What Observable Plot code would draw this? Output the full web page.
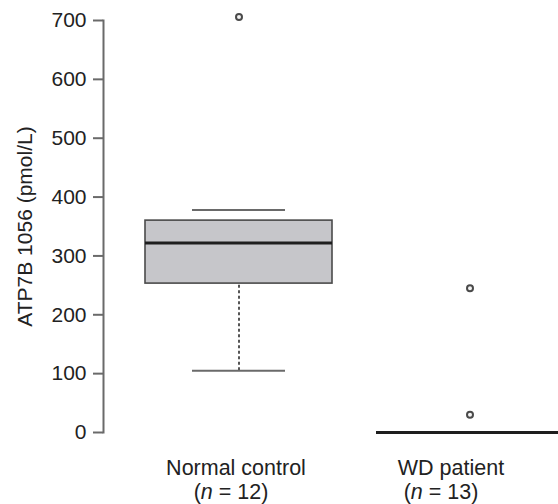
<!DOCTYPE html>
<html>
<head>
<meta charset="utf-8">
<script src="https://cdn.jsdelivr.net/npm/d3@7"></script>
<script src="https://cdn.jsdelivr.net/npm/@observablehq/plot@0.6"></script>
<style>
  html, body { margin: 0; padding: 0; background: #fff; }
  #chart { width: 558px; height: 504px; overflow: hidden; }
</style>
</head>
<body>
<div id="chart"></div>
<script>
// ---- data ----
const categories = ["Normal control", "WD patient"];
const nLabels = ["(n = 12)", "(n = 13)"];
const q1 = [253, 0];
const median = [322, 0];
const q3 = [360, 0];
const whiskerLow = [105, null];
const whiskerHigh = [378, null];
const outlierCategory = ["Normal control", "WD patient", "WD patient"];
const outlierValue = [706, 245, 30];
const yTicks = [0, 100, 200, 300, 400, 500, 600, 700];
const yLabel = "ATP7B 1056 (pmol/L)";

const boxes = categories.map((c, i) => ({
  cat: c, q1: q1[i], median: median[i], q3: q3[i], lo: whiskerLow[i], hi: whiskerHigh[i]
}));
const whiskers = boxes.filter(d => d.lo != null);
const outliers = outlierCategory.map((c, i) => ({cat: c, value: outlierValue[i]}));

// label offsets per category (line 1, line 2)
const labelDx = [[-3, -8], [-19, -29]];

const labelMarks = [];
categories.forEach((c, i) => {
  labelMarks.push(Plot.text([c], {x: d => d, text: d => d, frameAnchor: "bottom", lineAnchor: "bottom", dy: 42, dx: labelDx[i][0], fill: "#222", fontSize: 21.5}));
  labelMarks.push(Plot.text([nLabels[i]], {x: () => c, text: d => d, frameAnchor: "bottom", lineAnchor: "bottom", dy: 66, dx: labelDx[i][1], fill: "#222", fontSize: 21.5}));
});

const chart = Plot.plot({
  width: 558,
  height: 504,
  marginTop: 20,
  marginBottom: 72,
  marginLeft: 103,
  marginRight: 0,
  style: {fontFamily: "'Liberation Sans', Arial, sans-serif", fontSize: "21px", color: "#222", background: "#fff", overflow: "visible"},
  x: {type: "band", domain: categories, range: [100, 608], padding: 0.19, axis: null},
  y: {domain: [0, 700], ticks: yTicks},
  marks: [
    Plot.frame({anchor: "left", stroke: "#6a6a6a", strokeWidth: 2}),
    Plot.axisY({
      ticks: yTicks, tickSize: 10, tickPadding: 7, fontSize: 21, stroke: "#6a6a6a", strokeWidth: 2,
      fill: "#222", label: yLabel, labelAnchor: "center", labelArrow: "none", labelOffset: 86
    }),
    Plot.ruleX(whiskers, {x: "cat", y1: "lo", y2: "q1", stroke: "#555", strokeWidth: 2, strokeDasharray: "3,2.5", insetBottom: 7}),
    Plot.tickY(whiskers, {x: "cat", y: "lo", stroke: "#6a6a6a", strokeWidth: 2, inset: 47}),
    Plot.tickY(whiskers, {x: "cat", y: "hi", stroke: "#6a6a6a", strokeWidth: 2, inset: 47}),
    Plot.barY(boxes, {x: "cat", y1: "q1", y2: "q3", fill: "#c6c6ca", stroke: "#4a4a4a", strokeWidth: 1.6}),
    Plot.tickY(boxes, {x: "cat", y: "median", stroke: "#1e1e1e", strokeWidth: 3}),
    Plot.dot(outliers, {x: "cat", y: "value", r: 3, fill: "#f4f4f4", stroke: "#4a4a4a", strokeWidth: 2}),
    ...labelMarks
  ]
});

// italic "n" in the sample-size labels
chart.querySelectorAll("text").forEach(t => {
  const s = t.textContent;
  const m = s.match(/^\(n( = \d+\))$/);
  if (m) {
    t.textContent = "";
    t.appendChild(document.createTextNode("("));
    const it = document.createElementNS("http://www.w3.org/2000/svg", "tspan");
    it.setAttribute("font-style", "italic");
    it.textContent = "n";
    t.appendChild(it);
    t.appendChild(document.createTextNode(m[1]));
  }
});

document.getElementById("chart").appendChild(chart);
</script>
</body>
</html>
